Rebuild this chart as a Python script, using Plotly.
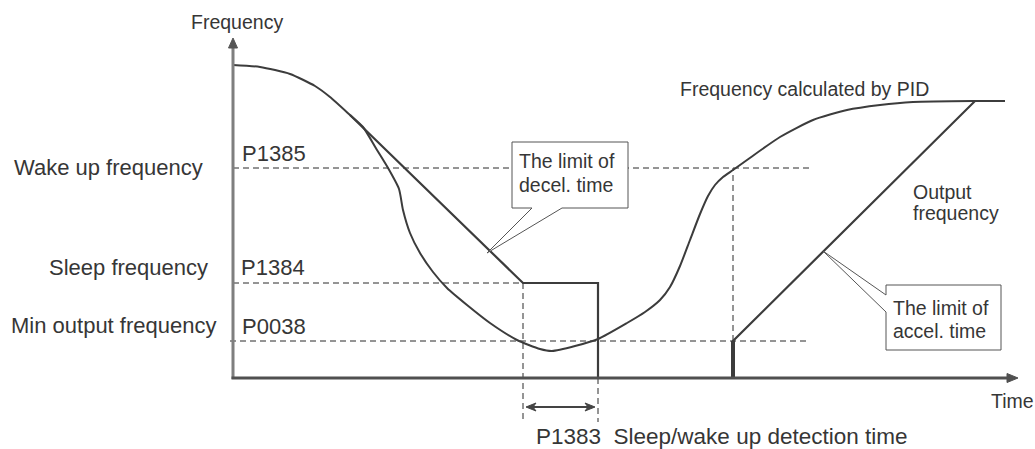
import plotly.graph_objects as go

# Frequency levels (arbitrary units, 0 = time axis)
START_FREQ = 313
MAX_FREQ = 277
WAKE_FREQ = 210    # P1385
SLEEP_FREQ = 95    # P1384
MIN_FREQ = 37      # P0038

# Event times (arbitrary units, 0 = frequency axis)
T_SLEEP = 290      # output reaches sleep frequency
T_STOP = 365       # end of sleep detection time -> output stops
T_WAKE = 500       # PID frequency back above wake-up level
T_FULL = 742       # output catches up with PID frequency
T_END = 772

# Frequency calculated by PID
pid_t = [0, 27, 57, 82, 97, 117, 130, 144, 155, 166, 170, 177, 187, 200, 214,
         234, 257, 284, 307, 319, 342, 365, 394, 412, 427, 437, 447, 457, 467,
         475, 482, 490, 500, 514, 547, 580, 614, 647, 680, 740, 772]
pid_f = [313, 311, 304, 292, 281, 263, 251, 228, 210, 189, 168, 145, 125, 106,
         90, 73, 55, 38, 29, 27, 32, 39, 55, 66, 78, 91, 112, 138, 164, 182,
         193, 201, 208, 218, 241, 258, 268, 273, 276, 277, 277]

# Output frequency (follows PID until the decel limit takes over)
SPLIT = 5
out_t = [pid_t[SPLIT], T_SLEEP, T_STOP, T_STOP, T_WAKE, T_WAKE, T_FULL, T_END]
out_f = [pid_f[SPLIT], SLEEP_FREQ, SLEEP_FREQ, 0, 0, MIN_FREQ, MAX_FREQ, MAX_FREQ]

X_MIN, X_MAX = -233, 802
Y_MIN, Y_MAX = -71, 378
Y_TOP = 340        # frequency axis arrow tip
X_RIGHT = 785      # time axis arrow tip
BELOW = -44        # lower end of the detection-time guides
ARROW_Y = -29

FONT = "Liberation Sans, Arial, sans-serif"
TXT = "#363636"
LINE = "#3c3c3c"
DASH = dict(color="#2a2a2a", width=1, dash="6px,4px")

fig = go.Figure()

fig.add_trace(go.Scatter(x=pid_t, y=pid_f, mode="lines",
                         line=dict(color=LINE, width=2, shape="spline", smoothing=0.6),
                         hoverinfo="skip", showlegend=False))
fig.add_trace(go.Scatter(x=out_t, y=out_f, mode="lines",
                         line=dict(color=LINE, width=2.2),
                         hoverinfo="skip", showlegend=False))
fig.add_trace(go.Scatter(x=[T_WAKE, T_WAKE], y=[0, MIN_FREQ], mode="lines",
                         line=dict(color=LINE, width=4),
                         hoverinfo="skip", showlegend=False))

shapes = []
# level guides
shapes.append(dict(type="line", x0=0, x1=579, y0=WAKE_FREQ, y1=WAKE_FREQ, line=DASH, layer="below"))
shapes.append(dict(type="line", x0=0, x1=T_SLEEP, y0=SLEEP_FREQ, y1=SLEEP_FREQ, line=DASH, layer="below"))
shapes.append(dict(type="line", x0=-3, x1=577, y0=MIN_FREQ, y1=MIN_FREQ, line=DASH, layer="below"))
# time guides
shapes.append(dict(type="line", x0=T_SLEEP, x1=T_SLEEP, y0=SLEEP_FREQ, y1=BELOW, line=DASH, layer="below"))
shapes.append(dict(type="line", x0=T_STOP, x1=T_STOP, y0=0, y1=BELOW, line=DASH, layer="below"))
shapes.append(dict(type="line", x0=T_WAKE, x1=T_WAKE, y0=MIN_FREQ, y1=WAKE_FREQ, line=DASH, layer="below"))

# axes with arrowheads
shapes.append(dict(type="line", x0=0, x1=0, y0=-1, y1=Y_TOP - 8, line=dict(color="#7f7f7f", width=3)))
shapes.append(dict(type="path", path=f"M -4.5,{Y_TOP-10} L 0,{Y_TOP} L 4.5,{Y_TOP-10} Z",
                   fillcolor="#555555", line=dict(color="#555555", width=1)))
shapes.append(dict(type="line", x0=-1.5, x1=X_RIGHT - 8, y0=0, y1=0, line=dict(color="#505050", width=3)))
shapes.append(dict(type="path", path=f"M {X_RIGHT-11},4.5 L {X_RIGHT},0 L {X_RIGHT-11},-4.5 Z",
                   fillcolor="#505050", line=dict(color="#505050", width=1)))

# detection-time double arrow
a0, a1 = T_SLEEP + 3, T_STOP - 3
shapes.append(dict(type="line", x0=a0 + 4, x1=a1 - 4, y0=ARROW_Y, y1=ARROW_Y, line=dict(color="#444444", width=2)))
shapes.append(dict(type="path", path=f"M {a0},{ARROW_Y} L {a0+10},{ARROW_Y+4} L {a0+7},{ARROW_Y} L {a0+10},{ARROW_Y-4} Z",
                   fillcolor="#444444", line=dict(color="#444444", width=1)))
shapes.append(dict(type="path", path=f"M {a1},{ARROW_Y} L {a1-10},{ARROW_Y+4} L {a1-7},{ARROW_Y} L {a1-10},{ARROW_Y-4} Z",
                   fillcolor="#444444", line=dict(color="#444444", width=1)))

# callouts
shapes.append(dict(type="path",
                   path="M 279,236 L 395,236 L 395,170 L 329,170 L 254,125 L 299,170 L 279,170 Z",
                   fillcolor="white", line=dict(color="#555555", width=1)))
shapes.append(dict(type="path",
                   path="M 653,93 L 768,93 L 768,28 L 653,28 L 653,66 L 590,127 L 653,83 Z",
                   fillcolor="white", line=dict(color="#555555", width=1)))


def label(text, x, y, size, xanchor="left"):
    return dict(text=text, x=x, y=y, xref="x", yref="y", showarrow=False,
                xanchor=xanchor, yanchor="middle",
                font=dict(family=FONT, size=size, color=TXT))


annotations = [
    label("Frequency", 4, 356, 19.5, "center"),
    label("Wake up frequency", -28, 211, 22, "right"),
    label("Sleep frequency", -23, 111, 22, "right"),
    label("Min output frequency", -15, 53, 22, "right"),
    label("P1385", 7, 225, 22),
    label("P1384", 6, 111, 22),
    label("P0038", 7, 52, 22),
    label("The limit of", 284, 217, 19.5),
    label("decel. time", 284, 193, 19.5),
    label("The limit of", 658, 70, 19.5),
    label("accel. time", 658, 47, 19.5),
    label("Frequency calculated by PID", 445, 289, 19.5),
    label("Output", 678, 186, 19.5),
    label("frequency", 678, 165, 19.5),
    label("Time", 756, -23, 19.5),
    label("P1383\u00a0 Sleep/wake up detection time", 301, -58, 22.5),
]

fig.update_layout(
    width=1035, height=449,
    margin=dict(l=0, r=0, t=0, b=0),
    paper_bgcolor="white", plot_bgcolor="white",
    xaxis=dict(range=[X_MIN, X_MAX], visible=False, fixedrange=True),
    yaxis=dict(range=[Y_MIN, Y_MAX], visible=False, fixedrange=True),
    shapes=shapes,
    annotations=annotations,
    showlegend=False,
)

fig.write_html("out.html")
